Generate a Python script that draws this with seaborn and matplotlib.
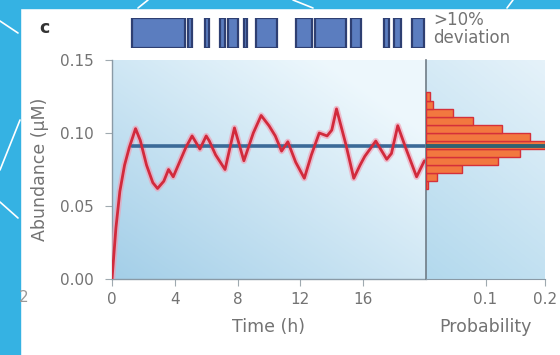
import numpy as np
import pandas as pd
import matplotlib
matplotlib.use("Agg")
import matplotlib.pyplot as plt
import seaborn as sns
from matplotlib.patches import Rectangle
from matplotlib.lines import Line2D

# ---------------- data ----------------
time_h = [0.0, 0.25, 0.5, 0.8, 1.1, 1.5, 1.8, 2.2, 2.6, 2.9, 3.3, 3.6, 3.9, 4.3, 4.7,
          5.1, 5.6, 6.0, 6.2, 6.6, 7.2, 7.8, 8.4, 9.0, 9.5, 10.0, 10.4, 10.8, 11.2,
          11.7, 12.25, 12.7, 13.2, 13.7, 14.0, 14.3, 14.9, 15.4, 15.8, 16.1, 16.8,
          17.5, 17.8, 18.2, 18.7, 19.4, 19.9]
abundance = [0.0, 0.035, 0.06, 0.078, 0.09, 0.103, 0.095, 0.078, 0.066, 0.062, 0.067,
             0.075, 0.070, 0.080, 0.090, 0.098, 0.089, 0.098, 0.0945, 0.085, 0.075,
             0.1035, 0.081, 0.100, 0.112, 0.105, 0.098, 0.0876, 0.094, 0.080, 0.069,
             0.085, 0.100, 0.098, 0.102, 0.1165, 0.092, 0.069, 0.078, 0.084, 0.0945,
             0.082, 0.086, 0.105, 0.090, 0.070, 0.081]
mean_level = 0.091
mean_start_h = 1.3

bin_centers = [0.125, 0.1195, 0.114, 0.1085, 0.103, 0.0975, 0.092, 0.0865, 0.081,
               0.0755, 0.070, 0.0645]
bin_probability = [0.006, 0.012, 0.045, 0.079, 0.128, 0.175, 0.20, 0.158, 0.121,
                   0.060, 0.018, 0.004]
bin_width = 0.0055

dev_start = [1.27, 4.83, 5.9, 6.86, 7.37, 8.38, 9.2, 11.75, 12.95, 15.24, 17.33, 17.97, 19.1]
dev_end = [4.63, 5.08, 6.2, 7.17, 8.0, 8.57, 10.48, 12.76, 14.92, 15.87, 17.65, 18.41, 19.87]

time_ticks = [0, 4, 8, 12, 16]
abund_ticks = [0.00, 0.05, 0.10, 0.15]
prob_ticks = [0.1, 0.2]

# ---------------- style ----------------
sns.set_style("ticks")
plt.rcParams["font.family"] = ["DejaVu Sans"]

W, H = 560, 355
fig = plt.figure(figsize=(W / 100, H / 100), dpi=100)
fig.patch.set_facecolor("white")

# blue frame around panel
blue = "#35b2e3"
fig.patches.append(Rectangle((0, 0), 20 / W, 1, transform=fig.transFigure, color=blue, zorder=0))
fig.patches.append(Rectangle((0, 1 - 8 / H), 1, 8 / H, transform=fig.transFigure, color=blue, zorder=0))
for (x0, y0, x1, y1) in [(0, 21, 18, 33), (0, 170, 20, 120), (0, 202, 18, 218),
                         (138, 8, 148, 0), (293, 0, 313, 8), (507, 8, 513, 0)]:
    fig.lines.append(Line2D([x0 / W, x1 / W], [1 - y0 / H, 1 - y1 / H],
                            transform=fig.transFigure, color="white", lw=1.2, zorder=1))

L, R, B, T = 112 / W, 426 / W, 1 - 279 / H, 1 - 60 / H
ax = fig.add_axes([L, B, R - L, T - B])
axh = fig.add_axes([R, B, 545 / W - R, T - B])
axt = fig.add_axes([L, 1 - 48 / H, R - L, 30 / H])


def gradient(ax, c_dark, c_light, wu, wv):
    n = 200
    u = np.linspace(0, 1, n)
    v = np.linspace(1, 0, n)
    U, V = np.meshgrid(u, v)
    w = np.clip(wu * U + wv * V, 0, 1)[..., None]
    img = np.array(c_dark)[None, None, :] * (1 - w) + np.array(c_light)[None, None, :] * w
    ax.imshow(img, extent=[0, 1, 0, 1], transform=ax.transAxes, aspect="auto",
              zorder=0, interpolation="bilinear")


txt = "#737373"
tickc = "#a0aab0"

# ---------------- main axes ----------------
gradient(ax, (0.64, 0.81, 0.91), (0.93, 0.97, 0.99), 0.6, 0.6)
ax.set_xlim(0, 20)
ax.set_ylim(0, 0.15)

df = pd.DataFrame({"t": time_h, "a": abundance})
sns.lineplot(data=df, x="t", y="a", ax=ax, color="#f39ab0", lw=4.5, alpha=0.6, zorder=3)
ax.plot([mean_start_h, 20], [mean_level, mean_level], color="#3b6a98", lw=2.6, zorder=4)
sns.lineplot(data=df, x="t", y="a", ax=ax, color="#d22a3c", lw=2.0, zorder=5)
ax.set_xlim(0, 20)
ax.set_ylim(0, 0.15)

ax.set_xticks(time_ticks)
ax.set_yticks(abund_ticks)
ax.set_yticklabels([f"{v:.2f}" for v in abund_ticks])
ax.set_xlabel("Time (h)", fontsize=12.5, color=txt, labelpad=8)
ax.set_ylabel("Abundance (\u00b5M)", fontsize=12.5, color=txt, labelpad=8)
for side in ["top", "right"]:
    ax.spines[side].set_visible(False)
for side in ["left", "bottom"]:
    ax.spines[side].set_color("#8a9aa6")
    ax.spines[side].set_linewidth(1.0)
ax.tick_params(axis="y", colors=tickc, labelcolor=txt, length=5, width=0.8, labelsize=11, pad=8)
ax.tick_params(axis="x", colors=tickc, labelcolor=txt, length=5, width=0.8, labelsize=11, pad=4)

# ---------------- histogram axes ----------------
gradient(axh, (0.70, 0.85, 0.93), (0.90, 0.95, 0.98), 0.3, 0.7)
edges = [c - bin_width / 2 for c in sorted(bin_centers)] + [max(bin_centers) + bin_width / 2]
sns.histplot(y=bin_centers, weights=bin_probability, bins=edges, ax=axh,
             color="#f2783f", edgecolor="#d5303a", linewidth=1.0, alpha=1, zorder=3)
axh.plot([0, 0.2], [mean_level, mean_level], color="#2f6272", lw=2.8, zorder=4)
axh.set_xlim(0, 0.2)
axh.set_ylim(0, 0.15)
axh.set_xticks(prob_ticks)
axh.set_xticklabels([f"{v:.1f}" for v in prob_ticks])
axh.set_yticks([])
axh.set_ylabel("")
axh.set_xlabel("Probability", fontsize=12.5, color=txt, labelpad=8)
for side in ["top", "right"]:
    axh.spines[side].set_visible(False)
axh.spines["left"].set_color("#6f7c86")
axh.spines["left"].set_linewidth(1.2)
axh.spines["bottom"].set_color("#8a9aa6")
axh.tick_params(colors=tickc, labelcolor=txt, length=5, width=0.8, labelsize=11, pad=4)

# ---------------- deviation strip ----------------
axt.set_xlim(0, 20)
axt.set_ylim(0, 1)
for s, e in zip(dev_start, dev_end):
    axt.axvspan(s, e, ymin=0, ymax=1, facecolor="#5b7dbf", edgecolor="#2e3f72", lw=1.6)
axt.axis("off")

fig.text(433 / W, 1 - 11 / H, ">10%\ndeviation", ha="left", va="top", fontsize=12,
         color=txt, linespacing=1.0)
fig.text(39 / W, 1 - 28 / H, "c", ha="left", va="center", fontsize=12.5,
         fontweight="bold", color="#333333")
fig.text(19 / W, 1 - 297 / H, "2", ha="left", va="center", fontsize=11, color="#999999")

fig.savefig("out.png", dpi=100, facecolor="white")
